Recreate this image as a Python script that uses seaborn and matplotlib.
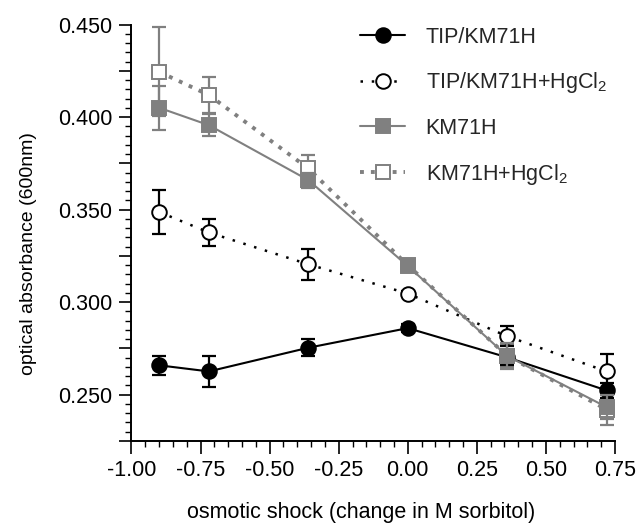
import numpy as np
import pandas as pd
import matplotlib
matplotlib.use('Agg')
import matplotlib.pyplot as plt
from matplotlib.ticker import MultipleLocator, FuncFormatter
import seaborn as sns

# osmotic shock (change in M sorbitol)
shock = [-0.90, -0.72, -0.36, 0.00, 0.36, 0.72]

# optical absorbance (600nm) per strain
tip = [0.2659, 0.2626, 0.2754, 0.2860, 0.2702, 0.2523]
tip_err = [0.0050, 0.0085, 0.0047, 0.0020, 0.0040, 0.0040]
tip_hg = [0.3488, 0.3377, 0.3205, 0.3047, 0.2816, 0.2626]
tip_hg_err = [0.0120, 0.0075, 0.0085, 0.0015, 0.0054, 0.0096]
km = [0.4051, 0.3957, 0.3660, 0.3196, 0.2709, 0.2433]
km_err = [0.0120, 0.0060, 0.0040, 0.0030, 0.0070, 0.0063]
km_hg = [0.4245, 0.4120, 0.3723, 0.3200, 0.2710, 0.2420]
km_hg_err = [0.0240, 0.0099, 0.0072, 0.0030, 0.0060, 0.0085]

labels = ['TIP/KM71H', 'TIP/KM71H+HgCl$_2$', 'KM71H', 'KM71H+HgCl$_2$']

gray = '#808080'

sns.set_theme(style='ticks')
plt.rcParams['font.family'] = ['Liberation Sans', 'DejaVu Sans']
plt.rcParams['mathtext.default'] = 'regular'
plt.rcParams['axes.unicode_minus'] = False

fig = plt.figure(figsize=(6.38, 5.23), dpi=100)
ax = fig.add_axes([0.2061, 0.1568, 0.7578, 0.796])

df = pd.DataFrame({'shock': shock, 'tip': tip, 'tip_hg': tip_hg, 'km': km, 'km_hg': km_hg})

# series settings: column, errors, label, color, marker, fill, linestyle, linewidth, zorder
series = [
    ('km_hg', km_hg_err, labels[3], gray, 's', 'white', (0, (1, 1.8)), 2.8, 2),
    ('tip_hg', tip_hg_err, labels[1], 'black', 'o', 'white', (0, (1, 3.5)), 1.8, 3),
    ('tip', tip_err, labels[0], 'black', 'o', 'black', '-', 1.5, 4),
    ('km', km_err, labels[2], gray, 's', gray, '-', 1.5, 5),
]

for col, err, lab, color, marker, fill, ls, lw, z in series:
    ax.errorbar(df['shock'], df[col], yerr=err, fmt='none', ecolor=color,
                elinewidth=1.6, capsize=5, capthick=1.6, zorder=z)
    sns.lineplot(data=df, x='shock', y=col, ax=ax, color=color, marker=marker,
                 markersize=10.5, markerfacecolor=fill, markeredgecolor=color,
                 markeredgewidth=1.4, linestyle=ls, linewidth=lw, label=lab,
                 zorder=z + 0.5)

ax.set_xlim(-1.0, 0.75)
ax.set_ylim(0.225, 0.450)
sns.despine(ax=ax)
for s in ['left', 'bottom']:
    ax.spines[s].set_linewidth(1.4)
    ax.spines[s].set_color('black')

ax.xaxis.set_major_locator(MultipleLocator(0.25))
ax.xaxis.set_minor_locator(MultipleLocator(0.05))
ax.xaxis.set_major_formatter(FuncFormatter(lambda v, p: f'{v:.2f}'))
ax.yaxis.set_major_locator(MultipleLocator(0.025))
ax.yaxis.set_minor_locator(MultipleLocator(0.005))
ax.yaxis.set_major_formatter(FuncFormatter(
    lambda v, p: f'{v:.3f}' if abs(v / 0.05 - round(v / 0.05)) < 1e-6 else ''))
ax.tick_params(which='major', direction='out', length=9, width=1.2, color='black',
               labelsize=15.5, labelcolor='black')
ax.tick_params(which='minor', direction='out', length=4.5, width=1.0, color='black')
ax.tick_params(axis='x', which='major', pad=5)
ax.tick_params(axis='y', which='major', pad=5)

ax.set_xlabel('osmotic shock (change in M sorbitol)', fontsize=15.5, color='black')
ax.set_ylabel('optical absorbance (600nm)', fontsize=14, color='black')
ax.xaxis.set_label_coords(0.474, -0.147)
ax.yaxis.set_label_coords(-0.195, 0.45)

handles, labs = ax.get_legend_handles_labels()
order = [labs.index(l) for l in labels]
ax.legend([handles[i] for i in order], [labs[i] for i in order],
          loc='upper left', bbox_to_anchor=(0.4726, 0.995), frameon=False,
          fontsize=15.5, handlelength=2.1, handletextpad=0.95, labelspacing=1.05,
          borderpad=0, borderaxespad=0)

fig.savefig('out.png', dpi=100)
